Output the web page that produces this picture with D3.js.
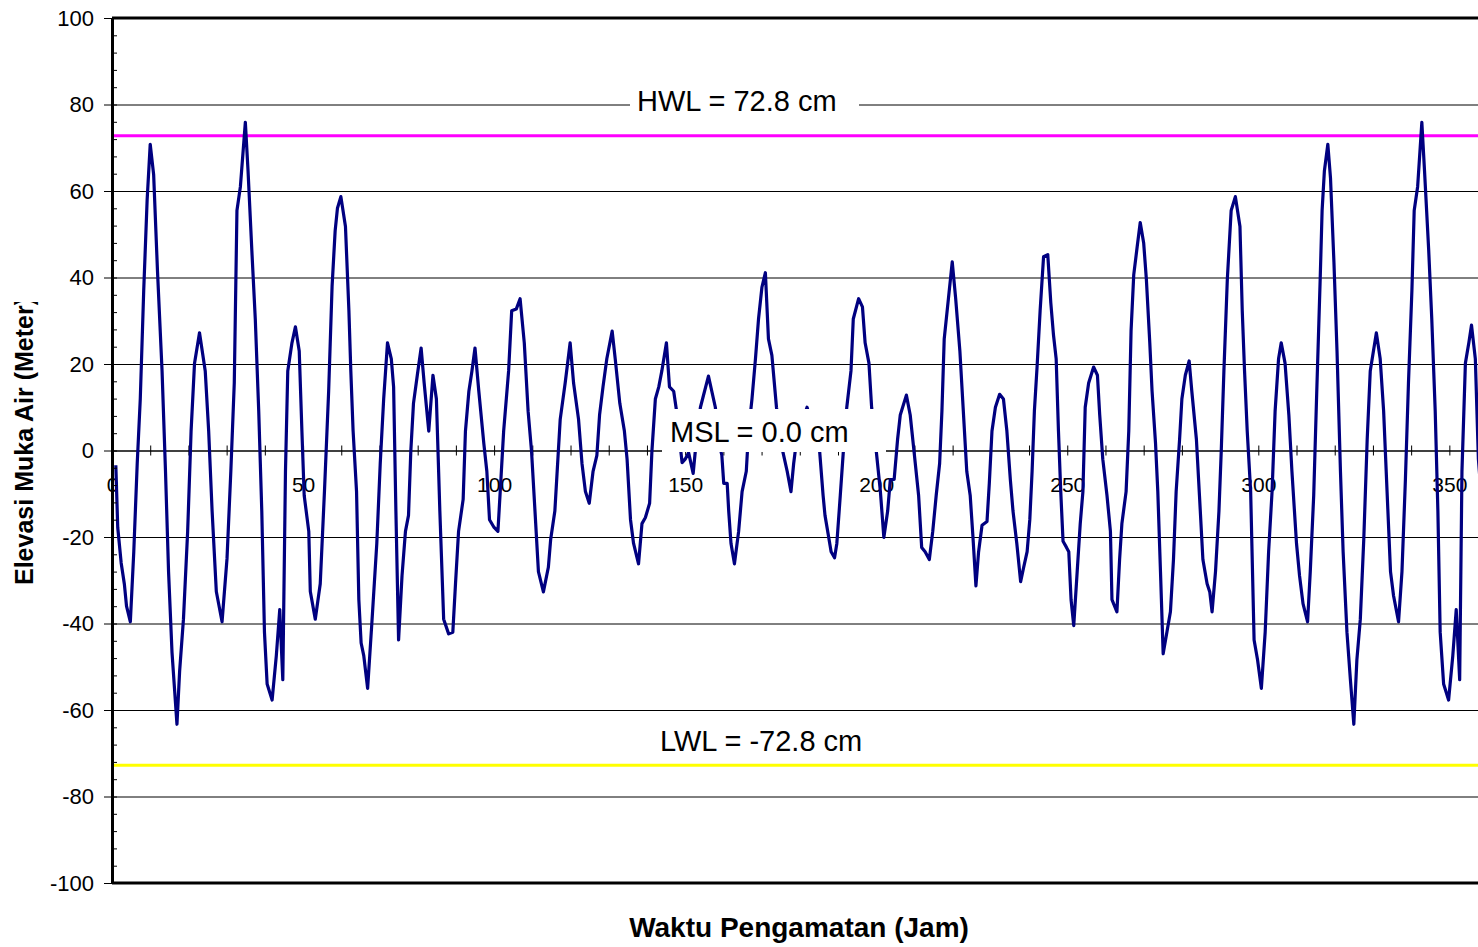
<!DOCTYPE html>
<html>
<head>
<meta charset="utf-8">
<script src="https://cdn.jsdelivr.net/npm/d3@7"></script>
<style>
  body { margin: 0; background: #fff; }
  svg { display: block; font-family: Arial, "Liberation Sans", sans-serif; }
</style>
</head>
<body>
<div id="chart"></div>
<script>
// hours (peaks, troughs and points along each limb)
const hours = [
  1.0, 1.5, 2.4, 3.25, 3.8, 4.8, 5.7, 6.6, 7.4, 8.3, 9.2, 10.0, 10.9, 11.9, 13.1, 14.0, 14.8, 15.7, 17.0, 17.7,
  18.7, 19.8, 20.7, 21.6, 22.9, 24.4, 25.3, 26.2, 27.3, 28.8, 30.1, 31.1, 32.0, 32.7, 33.6, 34.9, 35.6, 36.6, 37.5, 38.4,
  39.2, 39.9, 40.6, 41.9, 43.0, 43.9, 44.7, 45.4, 46.0, 47.1, 48.0, 49.0, 49.7, 50.3, 51.5, 51.9, 53.2, 54.5, 55.6, 56.7,
  57.6, 58.4, 59.0, 59.9, 61.1, 62.0, 62.5, 63.1, 64.0, 64.6, 65.2, 65.9, 66.9, 68.0, 69.3, 70.2, 71.1, 72.1, 73.1, 73.7,
  74.3, 75.0, 75.9, 76.8, 77.6, 78.2, 78.9, 79.9, 80.9, 81.7, 82.9, 84.0, 84.9, 85.8, 86.8, 88.1, 89.2, 89.9, 90.7, 91.9,
  92.5, 93.4, 94.2, 95.0, 96.0, 97.3, 98.1, 98.8, 100.0, 101.0, 101.6, 102.5, 103.8, 104.6, 105.8, 106.8, 107.9, 108.9, 109.8, 110.7,
  111.6, 112.9, 114.2, 114.8, 115.9, 117.3, 118.6, 119.9, 120.8, 122.1, 123.0, 123.9, 124.9, 125.9, 126.9, 127.6, 128.5, 129.5, 130.9, 131.7,
  132.9, 134.1, 134.8, 135.7, 136.5, 137.8, 138.7, 139.6, 140.7, 141.3, 142.2, 143.1, 143.9, 145.1, 145.9, 147.0, 147.9, 148.6, 149.2, 150.0,
  150.9, 152.1, 153.0, 154.0, 156.1, 157.9, 158.8, 159.6, 160.1, 161.0, 161.4, 162.0, 162.9, 164.0, 164.9, 166.0, 166.6, 167.5, 168.4, 169.2,
  170.1, 171.0, 171.8, 172.7, 173.9, 175.0, 176.7, 177.7, 178.4, 178.8, 180.5, 181.9, 183.5, 185.2, 186.1, 186.6, 187.5, 188.2, 189.1, 189.7,
  190.6, 191.4, 192.3, 193.4, 194.0, 195.4, 196.4, 197.1, 198.1, 198.8, 200.0, 201.1, 202.0, 203.0, 203.7, 204.7, 205.6, 206.3, 207.9, 208.9,
  209.9, 211.1, 211.9, 212.8, 213.9, 214.8, 215.7, 216.6, 217.2, 217.8, 218.9, 219.9, 220.8, 221.9, 222.8, 223.7, 224.6, 225.3, 226.1, 226.8,
  227.7, 229.0, 229.6, 230.3, 231.2, 232.3, 233.3, 234.2, 235.1, 235.8, 236.8, 237.8, 238.6, 239.5, 240.2, 240.8, 241.4, 242.1, 242.9, 243.8,
  244.9, 245.7, 246.4, 247.1, 247.7, 248.3, 248.9, 249.8, 250.4, 251.0, 251.7, 252.6, 253.4, 254.1, 254.7, 255.6, 256.9, 257.9, 258.5, 259.3,
  260.4, 261.3, 261.7, 263.0, 263.7, 264.3, 265.4, 266.1, 266.7, 267.4, 268.3, 269.1, 270.0, 270.7, 271.6, 272.2, 273.1, 273.7, 274.4, 275.1,
  276.1, 277.0, 277.8, 278.5, 279.4, 280.0, 280.9, 281.9, 282.6, 283.8, 284.6, 285.5, 286.6, 287.3, 287.9, 288.8, 289.7, 290.3, 291.0, 291.9,
  292.9, 294.0, 295.2, 295.8, 296.4, 297.1, 298.0, 298.9, 299.8, 300.8, 301.8, 302.7, 303.6, 304.4, 305.3, 306.0, 307.0, 308.0, 308.8, 310.0,
  310.8, 311.7, 312.9, 313.6, 314.5, 315.3, 316.2, 316.7, 317.3, 318.2, 318.9, 319.8, 320.6, 321.5, 322.2, 323.2, 324.1, 325.0, 325.8, 326.7,
  327.6, 328.5, 329.3, 330.9, 331.9, 332.8, 333.7, 334.6, 335.4, 336.7, 337.6, 338.5, 339.3, 340.2, 340.8, 341.7, 342.8, 343.5, 344.6, 345.4,
  346.3, 347.0, 347.6, 348.5, 349.8, 350.9, 351.8, 352.7, 353.3, 354.2, 355.1, 355.8, 356.8, 357.6, 358.5
];

// water elevation (cm) at those hours
const elevation = [
  -3.4, -17.8, -26, -31, -36, -39.6, -23.4, -3, 11.9, 37, 58, 70.8, 63.8, 41.6, 18.4, -4.8, -28, -46.6, -63.3, -51,
  -39, -18.7, 4.5, 20.2, 27.2, 18.4, 4.5, -14, -32.6, -39.6, -25, -4.8, 15.6, 55.5, 61, 75.9, 64.7, 46.2, 30.4, 9.1,
  -14, -42, -54, -57.7, -47.5, -36.8, -53, -4.8, 18.4, 24.9, 28.6, 23, 4.5, -10.4, -18.7, -32.6, -39, -30.8, -9.5, 13.7,
  38, 50.8, 56, 58.7, 51.8, 32.3, 18.4, 4.5, -9.5, -34.5, -44.5, -47.5, -55, -40, -21.5, -3, 11.9, 24.9, 21.2, 14.7,
  -14, -43.8, -29, -18.7, -15, -0.2, 10.9, 17.4, 23.7, 15.6, 4.5, 17.4, 11.9, -14, -39, -42.4, -42, -30.8, -18.7, -11.3,
  4.5, 13.7, 18.4, 23.7, 13.7, 1.7, -4.8, -16, -17.8, -18.7, -9.5, 4.5, 18.4, 32.3, 32.7, 35.1, 24.9, 9.1, -0.2, -14,
  -28, -32.7, -27, -20.6, -14, 7.2, 15.6, 24.9, 15.6, 7.2, -3, -9.5, -12.2, -4.8, -1.1, 8.2, 14.7, 21.2, 27.6, 21.2,
  10.9, 4.5, -2, -16, -21.5, -26.2, -16.9, -15.5, -12.2, -0.2, 11.9, 14.7, 18.4, 24.9, 14.7, 13.7, 8.2, 2, -2.8, -2,
  -0.5, -5.3, 3, 10, 17.2, 10, 2, -1.1, -7.6, -7.6, -14, -21.5, -26.2, -18.7, -9.5, -4.8, 4.5, 12, 21.2, 30.4,
  37.8, 41.1, 25.8, 22, 10, 2, -4.8, -9.5, -3, -0.2, 6, 10, 5, -0.2, -10.4, -15, -19.7, -23.4, -24.8, -21.5,
  -10.4, -0.2, 10, 18.4, 30.4, 35.1, 33.2, 24.9, 20.2, 10, 0, -9.5, -20.1, -14, -6.7, -6.7, 2.6, 8.2, 12.8, 8.2,
  -0.2, -10.4, -22.4, -23.4, -25.2, -18.7, -10.4, -3, 9.1, 25.8, 35.1, 43.6, 35.1, 23, 9.1, -4.8, -10.4, -19.7, -31.3, -23.4,
  -17.3, -16.4, -7.6, 4.5, 10, 13, 11.9, 4.5, -6.7, -14, -21.5, -30.3, -27, -23.4, -16, -4.8, 9.1, 19.3, 32.3, 44.8,
  45.3, 34.1, 26.7, 21.2, 4.5, -9.5, -21, -22.4, -23.4, -34.5, -40.5, -28, -16.9, -9.5, 10, 15.6, 19.3, 17.4, 8.2, -2,
  -10.4, -18.7, -34.5, -37.3, -25.2, -16.9, -9.5, 4.5, 27.6, 40.6, 47.1, 52.7, 48, 39.7, 24.9, 13.7, 1.7, -9.5, -28, -47,
  -41.9, -37.3, -25.2, -9.5, 2.6, 11.9, 17.4, 20.7, 13.7, 2.6, -10.4, -25.2, -30.8, -32.7, -37.3, -28, -14, -0.2, 18.4, 39.7,
  55.5, 58.7, 51.8, 32.3, 18.4, 4.5, -9.5, -43.8, -48.4, -55, -42, -23.4, -9.5, 9.1, 21.2, 24.9, 20.2, 8.2, -4.8, -21.5,
  -29, -35.4, -39.6, -28, -10.4, 13.7, 39.7, 55.5, 64.7, 70.8, 62.9, 43.4, 23, -4.8, -23.4, -42, -53, -63.3, -48.4, -39,
  -20.6, 2.6, 18.4, 27.2, 21.2, 9.1, -9.5, -28, -33.6, -39.6, -28, -6.7, 15.6, 37, 55.5, 61, 75.9, 64.7, 46.2, 30.4,
  9.1, -14, -42, -54, -57.7, -47.5, -36.8, -53, -4.8, 20.2, 24.9, 29, 21.2, -2, -12
];

const xTickLabels = [0, 50, 100, 150, 200, 250, 300, 350];
const xMinorTicks = d3.range(0, 361, 10);
const yTickLabels = [-100, -80, -60, -40, -20, 0, 20, 40, 60, 80, 100];
const yMinorTicks = d3.range(-100, 101, 4);
const gridValues = [-80, -60, -40, -20, 20, 40, 60, 80];

const hwl = 72.8, lwl = -72.8, msl = 0.0;

const W = 1478, H = 947;
const plotLeft = 112, plotTop = 18, plotBottom = 883;
const pxPerHour = 3.821;

const svg = d3.select("#chart")
    .append("svg")
    .attr("width", W)
    .attr("height", H);

const x = d3.scaleLinear()
    .domain([0, 360])
    .range([plotLeft, plotLeft + 360 * pxPerHour]);

const y = d3.scaleLinear()
    .domain([-100, 100])
    .range([plotBottom, plotTop]);

const plotRight = x(360);

// gridlines
svg.append("g")
    .attr("transform", `translate(${plotLeft},0)`)
    .call(d3.axisLeft(y).tickValues(gridValues).tickSize(-(plotRight - plotLeft)).tickFormat(""))
    .call(g => g.select(".domain").remove())
    .call(g => g.selectAll("line").attr("stroke", "#000").attr("stroke-width", 1));

// HWL / LWL lines
svg.append("line")
    .attr("x1", plotLeft).attr("x2", plotRight)
    .attr("y1", y(hwl)).attr("y2", y(hwl))
    .attr("stroke", "#ff00ff").attr("stroke-width", 3);

svg.append("line")
    .attr("x1", plotLeft).attr("x2", plotRight)
    .attr("y1", y(lwl)).attr("y2", y(lwl))
    .attr("stroke", "#ffff00").attr("stroke-width", 3);

// x axis crossing at 0
const xAxis = svg.append("g")
    .attr("transform", `translate(0,${y(0)})`)
    .call(d3.axisBottom(x).tickValues(xMinorTicks).tickSize(5).tickSizeOuter(0).tickFormat(""));
xAxis.select(".domain").attr("stroke", "#000").attr("stroke-width", 1.3);
xAxis.selectAll(".tick line").attr("y1", -5).attr("stroke", "#000");

svg.append("g")
    .attr("transform", `translate(0,${y(0)})`)
    .call(d3.axisBottom(x).tickValues(xTickLabels).tickSize(0).tickPadding(27).tickFormat(d => String(d)))
    .call(g => g.select(".domain").remove())
    .call(g => g.selectAll("text")
        .attr("fill", "#000")
        .style("font-size", "21px")
        .style("font-family", "Arial, 'Liberation Sans', sans-serif"));

// the tide series
const line = d3.line()
    .x((d, i) => x(hours[i]))
    .y(d => y(d));

svg.append("path")
    .datum(elevation)
    .attr("fill", "none")
    .attr("stroke", "#000080")
    .attr("stroke-width", 3.2)
    .attr("stroke-linejoin", "round")
    .attr("d", line);

// plot frame (top and bottom)
svg.append("line")
    .attr("x1", plotLeft).attr("x2", plotRight)
    .attr("y1", plotTop).attr("y2", plotTop)
    .attr("stroke", "#000").attr("stroke-width", 3);
svg.append("line")
    .attr("x1", plotLeft).attr("x2", plotRight)
    .attr("y1", plotBottom).attr("y2", plotBottom)
    .attr("stroke", "#000").attr("stroke-width", 3);

// y axis: major ticks outside, minor ticks inside
svg.append("g")
    .attr("transform", `translate(${plotLeft},0)`)
    .call(d3.axisRight(y).tickValues(yMinorTicks).tickSize(5).tickSizeOuter(0).tickFormat(""))
    .call(g => g.select(".domain").remove())
    .call(g => g.selectAll("line").attr("stroke", "#000"));

const yAxis = svg.append("g")
    .attr("transform", `translate(${plotLeft},0)`)
    .call(d3.axisLeft(y).tickValues(yTickLabels).tickSize(8).tickSizeOuter(0).tickPadding(10)
        .tickFormat(d => String(d)));
yAxis.select(".domain").attr("stroke", "#000").attr("stroke-width", 3);
yAxis.selectAll("line").attr("stroke", "#000");
yAxis.selectAll("text")
    .attr("fill", "#000")
    .style("font-size", "22px")
    .style("font-family", "Arial, 'Liberation Sans', sans-serif");

// level labels with white boxes
function levelLabel(txt, x0, x1, boxTop, boxBottom, tx, baseline) {
    svg.append("rect")
        .attr("x", x0).attr("y", boxTop)
        .attr("width", x1 - x0).attr("height", boxBottom - boxTop)
        .attr("fill", "#fff");
    svg.append("text")
        .attr("x", tx).attr("y", baseline)
        .style("font-size", "29px")
        .attr("fill", "#000")
        .text(txt);
}

levelLabel(`HWL = ${hwl.toFixed(1)} cm`, 630, 859, 88, 116, 637, 111);
levelLabel(`MSL = ${msl.toFixed(1)} cm`, 662, 886, 409, 452, 670, 442);
levelLabel(`LWL = ${lwl.toFixed(1)} cm`, 652, 874, 726, 758, 660, 751);

// axis titles
svg.append("text")
    .attr("x", 799)
    .attr("y", 937)
    .attr("text-anchor", "middle")
    .style("font-size", "28px")
    .style("font-weight", "bold")
    .text("Waktu Pengamatan (Jam)");

svg.append("clipPath")
    .attr("id", "ytitle-clip")
    .append("rect")
    .attr("x", 0).attr("y", 302)
    .attr("width", 60).attr("height", 300);

svg.append("g")
    .attr("clip-path", "url(#ytitle-clip)")
    .append("text")
    .attr("transform", "translate(33,585) rotate(-90)")
    .style("font-size", "25px")
    .style("font-weight", "bold")
    .text("Elevasi Muka Air (Meter)");
</script>
</body>
</html>
